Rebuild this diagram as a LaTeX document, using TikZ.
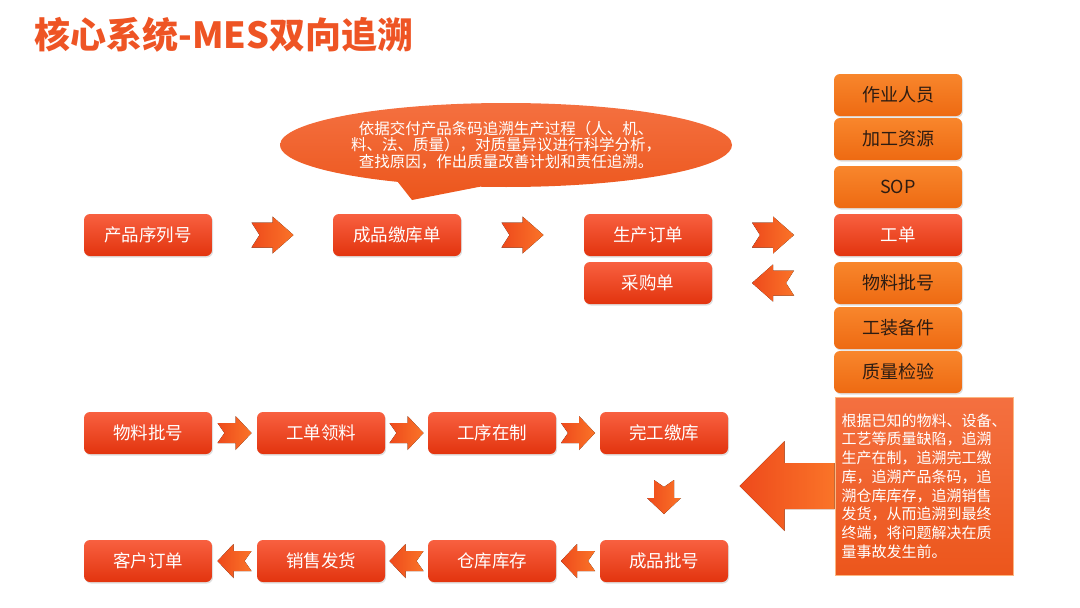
\documentclass[tikz,border=0pt]{standalone}
\usepackage{fontspec}
\setmainfont{Noto Sans CJK SC}
\usetikzlibrary{calc,shapes.callouts,shadows}
\definecolor{figT}{RGB}{238,84,36}
\definecolor{figRt}{RGB}{248,96,64}
\definecolor{figRb}{RGB}{226,52,14}
\definecolor{figOt}{RGB}{248,134,44}
\definecolor{figOb}{RGB}{238,106,18}
\definecolor{figK}{RGB}{45,28,18}
\definecolor{figAl}{RGB}{238,74,28}
\definecolor{figAr}{RGB}{250,116,40}
\definecolor{figEt}{RGB}{244,112,64}
\definecolor{figEb}{RGB}{236,86,28}

\begin{document}
\begin{tikzpicture}[x=1pt,y=-1pt,
  redbox/.style={rounded corners=6pt,minimum width=128pt,minimum height=42pt,top color=figRt,bottom color=figRb,text=white,font=\fontsize{17.5}{20}\selectfont,drop shadow={shadow xshift=1pt,shadow yshift=-1.5pt,opacity=.25}},
  orbox/.style={redbox,top color=figOt,bottom color=figOb,text=figK,font=\fontsize{18}{20}\selectfont},
  rchev/.pic={\fill[left color=figAl,right color=figAr] (-21,-12.5)--(0,-12.5)--(0,-18.5)--(21,0)--(0,18.5)--(0,12.5)--(-21,12.5)--(-13,0)--cycle;},
  schev/.pic={\fill[left color=figAl,right color=figAr] (-17,-10)--(1,-10)--(1,-17)--(17,0)--(1,17)--(1,10)--(-17,10)--(-10,0)--cycle;}]
\useasboundingbox (0,0) rectangle (1080,608);
\node[anchor=west,text=figT,font=\fontsize{36}{38}\selectfont\bfseries] (title) at (31,35) {核心系统-MES双向追溯};

\node[ellipse callout,callout absolute pointer={(412,200)},callout pointer arc=22,minimum width=452pt,minimum height=84pt,inner sep=0pt,
  top color=figEt,bottom color=figEb,text=white,align=center,font=\fontsize{15.5}{16.8}\selectfont] (note) at (506,145)
  {依据交付产品条码追溯生产过程（人、机、\\料、法、质量），对质量异议进行科学分析，\\查找原因，作出质量改善计划和责任追溯。};

\node[redbox] (psn) at (148,235) {产品序列号};
\node[redbox] (cpj) at (397,235) {成品缴库单};
\node[redbox] (scdd) at (648,235) {生产订单};
\node[redbox] (cgd) at (648,283) {采购单};
\node[orbox] (zyry) at (898,95) {作业人员};
\node[orbox] (jgzy) at (898,139) {加工资源};
\node[orbox] (sop) at (898,187) {SOP};
\node[redbox] (gd) at (898,235) {工单};
\node[orbox] (wlph) at (898,283) {物料批号};
\node[orbox] (gzbj) at (898,328) {工装备件};
\node[orbox] (zljy) at (898,372) {质量检验};
\pic at ($(psn.east)!.5!(cpj.west)$) {rchev};
\pic at ($(cpj.east)!.5!(scdd.west)$) {rchev};
\pic at ($(scdd.east)!.5!(gd.west)$) {rchev};
\pic[rotate=180] at ($(cgd.east)!.5!(wlph.west)$) {rchev};

\node[redbox] (bwl) at (148,433) {物料批号};
\node[redbox] (bgl) at (321,433) {工单领料};
\node[redbox] (bzz) at (492,433) {工序在制};
\node[redbox] (bwg) at (664,433) {完工缴库};
\node[redbox] (bkh) at (148,561) {客户订单};
\node[redbox] (bxs) at (321,561) {销售发货};
\node[redbox] (bck) at (492,561) {仓库库存};
\node[redbox] (bcp) at (664,561) {成品批号};
\pic at ($(bwl.east)!.5!(bgl.west)$) {schev};
\pic at ($(bgl.east)!.5!(bzz.west)$) {schev};
\pic at ($(bzz.east)!.5!(bwg.west)$) {schev};
\pic[rotate=-90] at ($(bwg.south)!.5!(bcp.north)$) {schev};
\pic[rotate=180] at ($(bcp.west)!.5!(bck.east)$) {schev};
\pic[rotate=180] at ($(bck.west)!.5!(bxs.east)$) {schev};
\pic[rotate=180] at ($(bxs.west)!.5!(bkh.east)$) {schev};

\node[minimum width=178pt,minimum height=178pt,top color=figEt,bottom color=figEb,draw=figOt!60!white,line width=.8pt,
  text=white,align=left,font=\fontsize{15}{18.7}\selectfont] (tbox) at (924,486)
  {根据已知的物料、设备、\\工艺等质量缺陷，追溯\\生产在制，追溯完工缴\\库，追溯产品条码，追\\溯仓库库存，追溯销售\\发货，从而追溯到最终\\终端，将问题解决在质\\量事故发生前。};
\fill[left color=figAl,right color=figAr] ($(tbox.west)+(0,-23)$) -- ++(-50,0) -- ++(0,-22) -- ($(tbox.west)+(-95,0)$)
  -- ($(tbox.west)+(-50,45)$) -- ++(0,-22) -- ($(tbox.west)+(0,23)$) -- cycle;
\end{tikzpicture}
\end{document}
